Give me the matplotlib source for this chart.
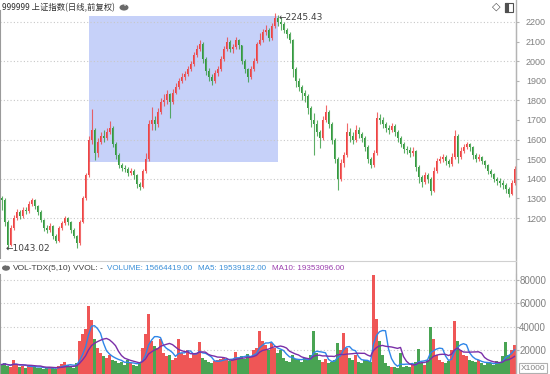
import matplotlib
matplotlib.use("Agg")
from matplotlib import pyplot as plt
from matplotlib.patches import Rectangle, Circle
import numpy as np
import pandas as pd

# price bars (each bar ~ one week of trading days)
closes = [1290, 1180, 1060, 1150, 1200, 1230, 1210, 1240, 1235, 1270, 1290, 1260,
          1230, 1190, 1150, 1140, 1160, 1110, 1085, 1150, 1175, 1200, 1180, 1140,
          1110, 1070, 1180, 1300, 1420, 1600, 1650, 1530, 1590, 1620, 1610, 1640,
          1660, 1580, 1520, 1470, 1455, 1450, 1430, 1440, 1420, 1375, 1360, 1440,
          1500, 1680, 1700, 1680, 1740, 1790, 1800, 1830, 1790, 1840, 1870, 1900,
          1920, 1935, 1960, 1985, 2030, 2060, 2090, 2010, 1950, 1920, 1900, 1940,
          1960, 2010, 2060, 2100, 2060, 2070, 2110, 2080, 2000, 1960, 1920, 1960,
          2000, 2090, 2110, 2150, 2160, 2120, 2180, 2220, 2200, 2190, 2160, 2140,
          2110, 1960, 1900, 1870, 1840, 1820, 1760, 1700, 1680, 1640, 1610, 1700,
          1740, 1680, 1600, 1500, 1400, 1480, 1520, 1640, 1620, 1600, 1650, 1630,
          1610, 1560, 1500, 1470, 1530, 1710, 1700, 1680, 1660, 1650, 1670, 1640,
          1610, 1580, 1550, 1545, 1530, 1540, 1460, 1410, 1385, 1420, 1400, 1340,
          1440, 1490, 1500, 1510, 1490, 1475, 1510, 1620, 1510, 1540, 1560, 1575,
          1560, 1520, 1500, 1510, 1490, 1470, 1440, 1425, 1400, 1390, 1380, 1370,
          1350, 1320, 1380, 1450]
highs = [1310, 1300, 1190, 1165, 1215, 1245, 1240, 1255, 1255, 1285, 1300, 1295,
         1265, 1240, 1195, 1165, 1175, 1165, 1120, 1160, 1185, 1210, 1205, 1185,
         1150, 1115, 1190, 1310, 1430, 1620, 1756, 1660, 1610, 1640, 1650, 1660,
         1695, 1670, 1590, 1530, 1480, 1470, 1460, 1455, 1450, 1425, 1385, 1450,
         1530, 1700, 1766, 1720, 1760, 1810, 1830, 1853, 1840, 1860, 1890, 1915,
         1940, 1950, 1975, 2000, 2045, 2080, 2110, 2100, 2020, 1965, 1935, 1955,
         1975, 2025, 2075, 2123, 2110, 2090, 2123, 2115, 2085, 2010, 1965, 1975,
         2015, 2100, 2143, 2165, 2185, 2170, 2195, 2245.43, 2235, 2225, 2200, 2170,
         2150, 2115, 1970, 1915, 1880, 1853, 1830, 1770, 1735, 1700, 1650, 1720,
         1776, 1750, 1690, 1610, 1510, 1500, 1535, 1685, 1660, 1640, 1675, 1665,
         1640, 1620, 1570, 1510, 1545, 1740, 1730, 1715, 1690, 1675, 1685, 1680,
         1650, 1620, 1590, 1565, 1560, 1560, 1545, 1470, 1420, 1435, 1430, 1410,
         1460, 1505, 1515, 1525, 1520, 1500, 1530, 1650, 1630, 1560, 1575, 1590,
         1585, 1565, 1530, 1525, 1515, 1495, 1475, 1450, 1430, 1410, 1405, 1395,
         1380, 1360, 1395, 1465]
lows = [1240, 1160, 1043.02, 1055, 1140, 1190, 1195, 1200, 1220, 1225, 1260, 1245,
        1215, 1180, 1135, 1125, 1130, 1095, 1070, 1080, 1140, 1165, 1165, 1125,
        1100, 1047, 1060, 1175, 1290, 1410, 1580, 1495, 1510, 1575, 1590, 1600,
        1630, 1560, 1500, 1455, 1440, 1435, 1415, 1420, 1400, 1355, 1341, 1355,
        1430, 1490, 1650, 1650, 1665, 1730, 1770, 1780, 1710, 1780, 1830, 1860,
        1890, 1905, 1925, 1950, 1975, 2020, 2050, 1990, 1930, 1900, 1878, 1890,
        1925, 1950, 2000, 2050, 2045, 2040, 2060, 2060, 1985, 1940, 1894, 1910,
        1950, 1990, 2080, 2100, 2135, 2105, 2110, 2170, 2180, 2160, 2145, 2120,
        2095, 1920, 1870, 1850, 1800, 1790, 1730, 1665, 1520, 1620, 1555, 1600,
        1690, 1660, 1580, 1480, 1343, 1390, 1460, 1510, 1590, 1580, 1590, 1610,
        1590, 1540, 1480, 1455, 1460, 1520, 1680, 1660, 1640, 1630, 1640, 1620,
        1590, 1560, 1530, 1525, 1510, 1515, 1440, 1380, 1360, 1375, 1380, 1317,
        1335, 1430, 1480, 1485, 1470, 1460, 1465, 1500, 1480, 1500, 1530, 1550,
        1540, 1500, 1485, 1490, 1475, 1455, 1425, 1410, 1385, 1370, 1360, 1350,
        1330, 1307, 1315, 1370]
first_open = 1300

# volume per bar, in x1000
volumes = [8000, 9000, 7000, 6000, 11500, 8000, 6000, 7000, 5500, 6500, 7000, 6000,
           5000, 5500, 4500, 5000, 6000, 5000, 4000, 7000, 8500, 10000, 8000, 6000,
           5000, 9000, 28000, 34000, 38000, 57500, 46000, 30000, 22000, 18000, 15000, 14000,
           16000, 12000, 11000, 9000, 10000, 8000, 12000, 9000, 8000, 7000, 9000, 22000,
           34000, 51000, 28000, 24000, 22000, 30000, 18000, 15000, 16000, 12000, 14000, 30000,
           18000, 16000, 20000, 14000, 17000, 18000, 27000, 14000, 12000, 10000, 9000, 11000,
           12000, 13000, 14000, 12000, 11000, 13000, 19000, 14000, 15000, 13000, 17000, 15000,
           20000, 22000, 37000, 28000, 25000, 20000, 26000, 22000, 18000, 20000, 14000, 11000,
           10000, 16000, 13000, 12000, 10000, 14000, 12000, 16000, 37000, 18000, 12000, 10000,
           13000, 9000, 10000, 12000, 26000, 20000, 35000, 22000, 14000, 12000, 16000, 10000,
           9000, 12000, 11000, 10000, 84000, 47000, 28000, 16000, 9000, 7000, 6000, 6000,
           5000, 18000, 6000, 7000, 6000, 8000, 10000, 21000, 9000, 8000, 12000, 40000,
           30000, 16000, 12000, 10000, 9000, 11000, 20000, 45000, 28000, 20000, 16000, 15000,
           12000, 11000, 10000, 12000, 9000, 8000, 10000, 9000, 8000, 11000, 9000, 15000,
           27000, 16000, 20000, 25000]

price_ticks = [1200, 1300, 1400, 1500, 1600, 1700, 1800, 1900, 2000, 2100, 2200]
price_grid = [1200, 1400, 1600, 1800, 2000, 2200]
vol_ticks = [20000, 40000, 60000, 80000]

# selection box (bar index range, price range)
sel_x = (29.3, 92.3)
sel_p = (1486, 2231)

W, H = 550, 374
RED = '#ee4444'
GREEN = '#359a40'
GRID = '#c8c8c8'
AXC = '#b4b4b4'
TXT = '#808080'
CJK = ['Noto Sans CJK SC', 'DejaVu Sans']
LAT = ['Liberation Sans', 'DejaVu Sans']

closes = np.array(closes, float)
opens = np.concatenate([[first_open], closes[:-1]])
up = closes >= opens
colors = np.where(up, RED, GREEN)
n = len(closes)
x = np.arange(n)

fig = plt.figure(figsize=(W / 100, H / 100), dpi=100, facecolor='white')

def px_rect(x0, y0, x1, y1):
    return [x0 / W, 1 - y1 / H, (x1 - x0) / W, (y1 - y0) / H]

ax = fig.add_axes(px_rect(0, 10, 516, 258))
vax = fig.add_axes(px_rect(0, 274, 516, 374))

# offset from the axis line to the right edge of tick labels (x = 546 px)
lab_pad = (546 - 516) * 0.72 - 2.2

def style_right_axis(a, ticks, size):
    a.yaxis.tick_right()
    a.set_yticks(ticks)
    a.set_yticklabels([str(t) for t in ticks])
    a.tick_params(axis='y', direction='out', length=2.2, width=0.8, color=AXC,
                  labelsize=size, labelcolor=TXT, pad=lab_pad)
    for lab in a.get_yticklabels():
        lab.set_family(LAT)
        lab.set_horizontalalignment('right')
    a.set_xticks([])
    for s in ['top', 'bottom']:
        a.spines[s].set_visible(False)
    a.spines['left'].set_color('#9a9a9a')
    a.spines['right'].set_color(AXC)
    a.patch.set_alpha(0)

# price panel
ax.add_patch(Rectangle((sel_x[0], sel_p[0]), sel_x[1] - sel_x[0], sel_p[1] - sel_p[0],
                       facecolor='#c6d1f9', edgecolor='none', zorder=0))
for lv in price_grid:
    ax.axhline(lv, color=GRID, lw=0.8, ls=(0, (1, 2)), zorder=1)
ax.vlines(x, lows, highs, colors=colors, lw=0.8, alpha=0.8, zorder=2)
body = np.maximum(np.abs(closes - opens), 3)
ax.bar(x, body, bottom=np.minimum(opens, closes), width=0.5, color=colors,
       linewidth=0, zorder=3)
ax.set_xlim(-0.5, n - 0.5)
ax.set_ylim(996, 2261)

imax = int(np.argmax(highs))
imin = int(np.argmin(lows))
ax.annotate('\u2190' + '%.2f' % max(highs), (imax + 1.2, max(highs)), xytext=(0, -3),
            textcoords='offset points', fontsize=6.5, color='#404040',
            family=['DejaVu Sans'], va='center')
ax.annotate('\u2190' + '%.2f' % min(lows), (imin - 0.5, min(lows)), xytext=(0, 0),
            textcoords='offset points', fontsize=6.5, color='#404040',
            family=['DejaVu Sans'], va='center')
style_right_axis(ax, price_ticks, 6.5)

# volume panel
vol = pd.Series(volumes, dtype=float)
ma5 = vol.rolling(5, min_periods=1).mean()
ma10 = vol.rolling(10, min_periods=1).mean()
for lv in vol_ticks:
    vax.axhline(lv, color=GRID, lw=0.8, ls=(0, (1, 2)), zorder=1)
vax.bar(x, volumes, width=0.85, color=colors, linewidth=0, alpha=0.9, zorder=2)
vax.plot(x, ma5, color='#2f86e8', lw=1.0, zorder=3)
vax.plot(x, ma10, color='#7a2fa8', lw=1.0, zorder=4)
vax.set_xlim(-0.5, n - 0.5)
vax.set_ylim(0, 85100)
style_right_axis(vax, vol_ticks, 7)

# frame lines on the figure
fig.add_artist(plt.Line2D([516 / W, 516 / W], [0, 1], color=AXC, lw=1.0))
fig.add_artist(plt.Line2D([0, 516 / W], [1 - 261 / H, 1 - 261 / H], color='#d0d0d0', lw=0.8))

# header texts
fig.text(2 / W, 1 - 7.5 / H, '999999 上证指数(日线,前复权)', fontsize=6.0, family=CJK,
         color='#303030', va='center')
fig.add_artist(Circle((124 / W, 1 - 7.5 / H), 4.5 / W, transform=fig.transFigure,
                      facecolor='#6a6a6a', edgecolor='none'))
fig.text(124 / W, 1 - 8 / H, '\u02c5', fontsize=6, color='white', ha='center', va='center',
         family=['DejaVu Sans'])
fig.text(496 / W, 1 - 7 / H, '\u25c7', fontsize=8, color='#505050', ha='center', va='center',
         family=['DejaVu Sans'])
fig.add_artist(Rectangle((505 / W, 1 - 12 / H), 8 / W, 9 / H, transform=fig.transFigure,
                         facecolor='white', edgecolor='#505050', lw=0.8))
fig.add_artist(Rectangle((505 / W, 1 - 12 / H), 3 / W, 9 / H, transform=fig.transFigure,
                         facecolor='#505050', edgecolor='#505050', lw=0.8))

hy = 1 - 268 / H
fig.add_artist(Circle((6 / W, hy), 4 / W, transform=fig.transFigure,
                      facecolor='#6a6a6a', edgecolor='none'))
fig.text(6 / W, hy - 0.5 / H, '\u02c5', fontsize=5.5, color='white', ha='center', va='center',
         family=['DejaVu Sans'])
fig.text(13 / W, hy, 'VOL-TDX(5,10)', fontsize=6, family=LAT, color='#404040', va='center')
fig.text(73 / W, hy, 'VVOL: -', fontsize=6, family=LAT, color='#404040', va='center')
fig.text(107 / W, hy, 'VOLUME: 15664419.00', fontsize=5.8, family=LAT, color='#3a8fd8', va='center')
fig.text(198 / W, hy, 'MA5: 19539182.00', fontsize=5.8, family=LAT, color='#3a8fd8', va='center')
fig.text(272 / W, hy, 'MA10: 19353096.00', fontsize=5.8, family=LAT, color='#9b3fae', va='center')

fig.text(533 / W, 1 - 368 / H, 'X1000', fontsize=6, family=LAT, color=TXT, ha='center',
         va='center', bbox=dict(boxstyle='square,pad=0.15', facecolor='white', edgecolor='#b0b0b0',
                                lw=0.8))

fig.savefig('out.png', dpi=100, facecolor='white')
